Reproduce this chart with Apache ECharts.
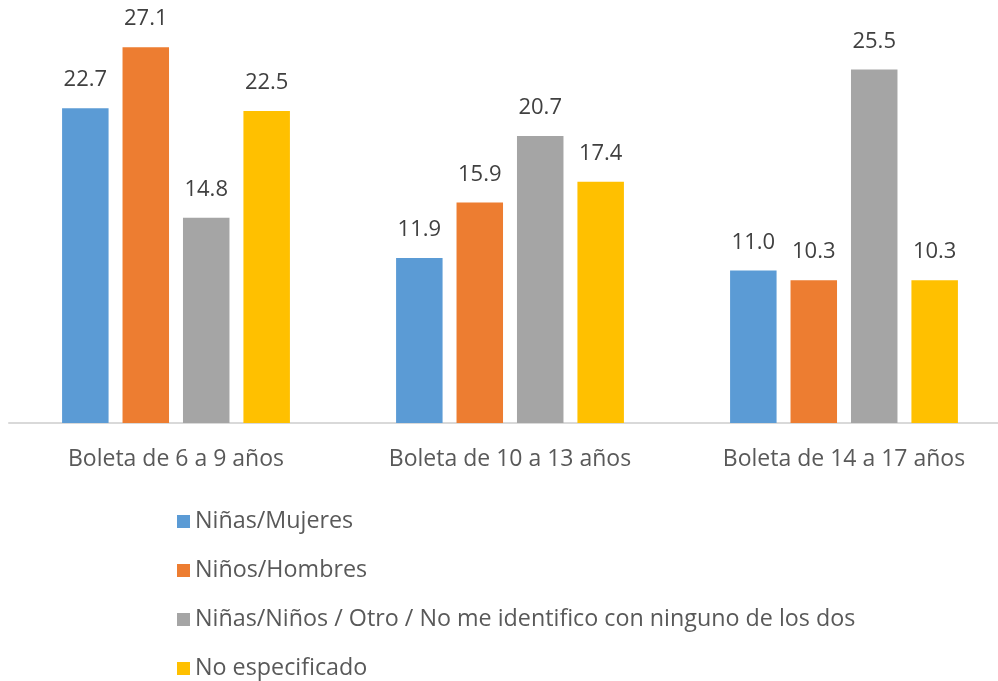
<!DOCTYPE html>
<html>
<head>
<meta charset="utf-8">
<script src="https://cdn.jsdelivr.net/npm/echarts@6/dist/echarts.min.js"></script>
<style>
  html, body { margin: 0; padding: 0; background: #fff; }
  #chart { width: 998px; height: 681px; }
</style>
</head>
<body>
<div id="chart"></div>
<script>
const categories = ['Boleta de 6 a 9 años', 'Boleta de 10 a 13 años', 'Boleta de 14 a 17 años'];
const seriesNames = [
  'Niñas/Mujeres',
  'Niños/Hombres',
  'Niñas/Niños / Otro / No me identifico con ninguno de los dos',
  'No especificado'
];
const mujeres = [22.7, 11.9, 11.0];
const hombres = [27.1, 15.9, 10.3];
const otro = [14.8, 20.7, 25.5];
const noEspecificado = [22.5, 17.4, 10.3];
const colors = ['#5b9bd5', '#ed7d31', '#a5a5a5', '#ffc000'];

const font = '"Open Sans", sans-serif';
const chart = echarts.init(document.getElementById('chart'));

const values = [mujeres, hombres, otro, noEspecificado];
const series = values.map((vals, i) => ({
  name: seriesNames[i],
  type: 'bar',
  data: vals,
  barWidth: 46.5,
  barGap: '30%',
  itemStyle: { color: colors[i] },
  label: {
    show: true,
    position: 'top',
    distance: 17,
    color: '#404040',
    fontSize: 22,
    fontFamily: font,
    formatter: p => p.value.toFixed(1)
  }
}));

chart.setOption({
  animation: false,
  grid: { left: 9, width: 1002, top: 7, bottom: 258, outerBoundsMode: 'none' },
  legend: {
    orient: 'vertical',
    left: 172,
    top: 505,
    height: 176,
    itemWidth: 13,
    itemHeight: 13,
    itemGap: 26,
    icon: 'rect',
    textStyle: { color: '#595959', fontSize: 23.3, fontFamily: font, padding: [0, 0, 0, 0] },
    data: seriesNames
  },
  xAxis: {
    type: 'category',
    data: categories,
    axisLine: { lineStyle: { color: '#d9d9d9', width: 2 } },
    axisTick: { show: false },
    axisLabel: { color: '#595959', fontSize: 23, fontFamily: font, margin: 25 }
  },
  yAxis: {
    type: 'value',
    min: 0,
    max: 30,
    show: false,
    splitLine: { show: false }
  },
  series: series
});
</script>
</body>
</html>
